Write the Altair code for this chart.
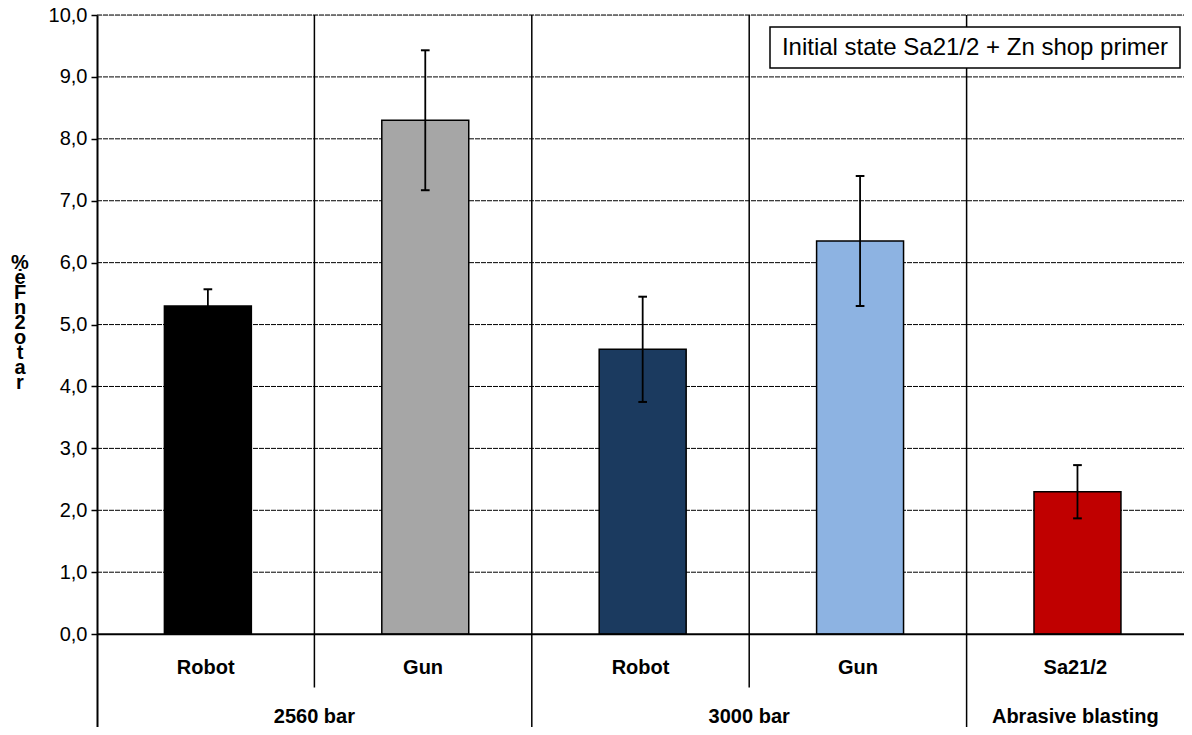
import altair as alt
import pandas as pd

# ---- data ----
categories = ["Robot", "Gun", "Robot", "Gun", "Sa21/2"]
values = [5.30, 8.30, 4.60, 6.35, 2.30]
errors = [0.27, 1.13, 0.85, 1.05, 0.43]
colors = ["#000000", "#A6A6A6", "#1B3A5F", "#8DB3E2", "#C00000"]
groups = ["2560 bar", "3000 bar", "Abrasive blasting"]
group_start = [0, 2, 4]
group_end = [2, 4, 5]
y_ticks = [0, 1, 2, 3, 4, 5, 6, 7, 8, 9, 10]
note_text = "Initial state Sa21/2 + Zn shop primer"
y_title_lines = ["%", "ė", "F", "n", "2", "o", "t", "a", "r"]

FONT = "Liberation Sans"
Y_MIN, Y_MAX = -1.5, 10

n = len(categories)
bars = pd.DataFrame({
    "cat": categories,
    "idx": list(range(n)),
    "value": values,
    "err": errors,
    "color": colors,
})
bars["x0"] = bars["idx"] + 0.31
bars["x1"] = bars["idx"] + 0.71
bars["xc"] = bars["idx"] + 0.51
bars["lo"] = bars["value"] - bars["err"]
bars["hi"] = bars["value"] + bars["err"]
bars["c0"] = bars["xc"] - 0.02
bars["c1"] = bars["xc"] + 0.02
bars["lx"] = bars["idx"] + 0.5
bars["label_y"] = -0.55

grp = pd.DataFrame({"group": groups, "s": group_start, "e": group_end})
grp["xc"] = (grp["s"] + grp["e"]) / 2
grp["label_y"] = -1.34

# dividers between categories (short inside a group, long between groups)
div_x = list(range(1, n))
div_bottom = []
for x in div_x:
    div_bottom.append(Y_MIN if x in group_start else -0.86)
dividers = pd.DataFrame({"x": div_x, "ybot": div_bottom, "ytop": [Y_MAX] * len(div_x)})

grid = pd.DataFrame({"y": [t for t in y_ticks if t > 0], "x0": 0, "x1": n})
base_line = pd.DataFrame({"y": [0], "x0": [0], "x1": [n]})

xs = alt.Scale(domain=[0, n], nice=False, zero=False)
ys = alt.Scale(domain=[Y_MIN, Y_MAX], nice=False, zero=False)

gridlines = alt.Chart(grid).mark_rule(color="#000000", strokeWidth=1, strokeDash=[5, 1]).encode(
    x=alt.X("x0:Q", scale=xs, axis=None),
    x2="x1:Q",
    y=alt.Y("y:Q", scale=ys, axis=alt.Axis(
        values=y_ticks, grid=False, title=None,
        labelExpr="replace(format(datum.value, '.1f'), '.', ',')",
        labelFont=FONT, labelFontSize=20, labelColor="#000000", labelPadding=4,
        domainColor="#000000", domainWidth=2, tickColor="#000000", tickWidth=1.5, tickSize=6,
    )),
)

div_rules = alt.Chart(dividers).mark_rule(color="#000000", strokeWidth=1.5).encode(
    x=alt.X("x:Q", scale=xs),
    y=alt.Y("ybot:Q", scale=ys),
    y2="ytop:Q",
)

bar_marks = alt.Chart(bars).mark_rect(stroke="#000000", strokeWidth=1.5).encode(
    x=alt.X("x0:Q", scale=xs),
    x2="x1:Q",
    y=alt.Y("value:Q", scale=ys),
    y2=alt.datum(0),
    fill=alt.Fill("color:N", scale=None),
)

err_rules = alt.Chart(bars).mark_rule(color="#000000", strokeWidth=1.8).encode(
    x=alt.X("xc:Q", scale=xs),
    y=alt.Y("lo:Q", scale=ys),
    y2="hi:Q",
)
cap_hi = alt.Chart(bars).mark_rule(color="#000000", strokeWidth=2).encode(
    x=alt.X("c0:Q", scale=xs), x2="c1:Q", y=alt.Y("hi:Q", scale=ys))
cap_lo = alt.Chart(bars).mark_rule(color="#000000", strokeWidth=2).encode(
    x=alt.X("c0:Q", scale=xs), x2="c1:Q", y=alt.Y("lo:Q", scale=ys))

axis_line = alt.Chart(base_line).mark_rule(color="#000000", strokeWidth=2).encode(
    x=alt.X("x0:Q", scale=xs), x2="x1:Q", y=alt.Y("y:Q", scale=ys))

cat_labels = alt.Chart(bars).mark_text(
    font=FONT, fontSize=20, fontWeight="bold", color="#000000", baseline="middle"
).encode(
    x=alt.X("lx:Q", scale=xs), y=alt.Y("label_y:Q", scale=ys), text="cat:N")

grp_labels = alt.Chart(grp).mark_text(
    font=FONT, fontSize=20, fontWeight="bold", color="#000000", baseline="middle"
).encode(
    x=alt.X("xc:Q", scale=xs), y=alt.Y("label_y:Q", scale=ys), text="group:N")

note_df = pd.DataFrame({"t": [note_text]})
note_box = alt.Chart(note_df).mark_rect(fill="#FFFFFF", stroke="#000000", strokeWidth=1.5).encode(
    x=alt.value(673), x2=alt.value(1083), y=alt.value(12), y2=alt.value(53))
note_txt = alt.Chart(note_df).mark_text(
    font=FONT, fontSize=24, color="#000000", baseline="middle", align="center"
).encode(x=alt.value(878), y=alt.value(33), text="t:N")

ytitle = alt.Chart(note_df).mark_text(
    text=y_title_lines, font=FONT, fontSize=20, fontWeight="bold", color="#000000",
    baseline="top", align="center", lineHeight=15,
).encode(x=alt.value(-77), y=alt.value(238))

chart = alt.layer(
    gridlines, div_rules, bar_marks, err_rules, cap_hi, cap_lo, axis_line,
    cat_labels, grp_labels, note_box, note_txt, ytitle,
).properties(
    width=1087, height=712,
    padding={"left": 89, "top": 7, "right": 0, "bottom": 0},
    autosize=alt.AutoSizeParams(type="none"),
).configure_view(stroke=None).configure(background="#FFFFFF")

chart.save("out.html", embed_options={"renderer": "svg", "actions": False})
